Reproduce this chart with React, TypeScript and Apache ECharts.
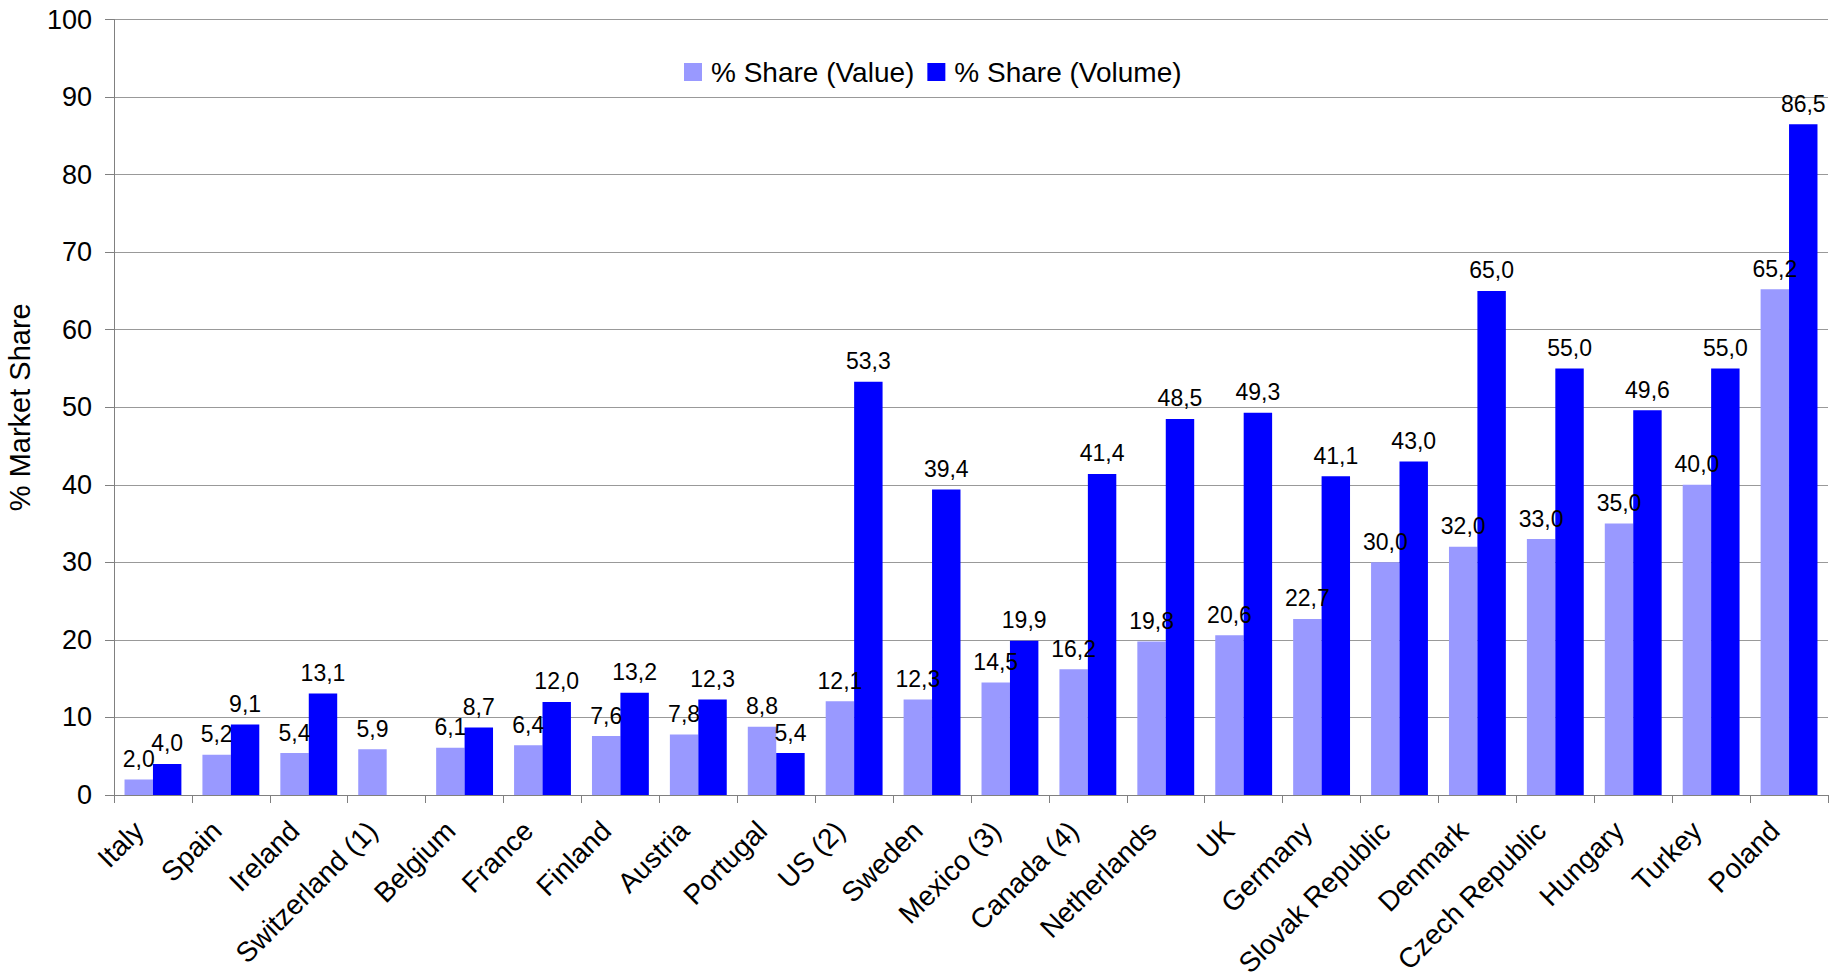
import React, { useEffect, useRef } from "react";
import * as echarts from "echarts";

const countries = [
  "Italy",
  "Spain",
  "Ireland",
  "Switzerland (1)",
  "Belgium",
  "France",
  "Finland",
  "Austria",
  "Portugal",
  "US (2)",
  "Sweden",
  "Mexico (3)",
  "Canada (4)",
  "Netherlands",
  "UK",
  "Germany",
  "Slovak Republic",
  "Denmark",
  "Czech Republic",
  "Hungary",
  "Turkey",
  "Poland",
];

const shareValue = [
  2.0, 5.2, 5.4, 5.9, 6.1, 6.4, 7.6, 7.8, 8.8, 12.1, 12.3, 14.5, 16.2, 19.8,
  20.6, 22.7, 30.0, 32.0, 33.0, 35.0, 40.0, 65.2,
];

const shareVolume: (number | null)[] = [
  4.0, 9.1, 13.1, null, 8.7, 12.0, 13.2, 12.3, 5.4, 53.3, 39.4, 19.9, 41.4,
  48.5, 49.3, 41.1, 43.0, 65.0, 55.0, 49.6, 55.0, 86.5,
];

const seriesNames = ["% Share (Value)", "% Share (Volume)"];
const yAxisTitle = "% Market Share";

const FONT = "'Liberation Sans', Arial, Helvetica, sans-serif";

// Values are shown with a decimal comma, one decimal place.
const fmt = (p: any) =>
  p.value == null ? "" : Number(p.value).toFixed(1).replace(".", ",");

export default function App() {
  const ref = useRef<HTMLDivElement>(null);

  useEffect(() => {
    document.body.style.margin = "0";
    document.body.style.overflow = "hidden";
    const chart = echarts.init(ref.current!, null, { renderer: "svg" });

    const label = {
      show: true,
      position: "top" as const,
      distance: 9,
      fontSize: 23,
      fontFamily: FONT,
      color: "#000",
      formatter: fmt,
    };

    chart.setOption({
      animation: false,
      backgroundColor: "#fff",
      textStyle: { fontFamily: FONT },
      grid: {
        left: 114,
        right: 3,
        top: 19.5,
        bottom: 185,
        containLabel: false,
        outerBoundsMode: "none",
      },
      legend: {
        left: 679,
        top: 53,
        itemWidth: 18,
        itemHeight: 18,
        itemGap: 13,
        icon: "rect",
        textStyle: { fontSize: 28, fontFamily: FONT, color: "#000", padding: [0, 0, 0, 4] },
        data: seriesNames,
      },
      xAxis: {
        type: "category",
        data: countries,
        axisLine: { lineStyle: { color: "#808080", width: 1 } },
        axisTick: { show: true, length: 8, lineStyle: { color: "#808080" } },
        axisLabel: {
          interval: 0,
          rotate: 45,
          margin: 17,
          padding: [0, 20, 0, 0],
          fontSize: 28,
          fontFamily: FONT,
          color: "#000",
        },
      },
      yAxis: {
        type: "value",
        min: 0,
        max: 100,
        interval: 10,
        name: yAxisTitle,
        nameLocation: "middle",
        nameRotate: 90,
        nameGap: 80,
        nameTextStyle: { fontSize: 29, fontFamily: FONT, color: "#000" },
        axisLine: { show: true, lineStyle: { color: "#808080", width: 1 } },
        axisTick: { show: true, length: 9, inside: false, lineStyle: { color: "#808080" } },
        axisLabel: { margin: 22, fontSize: 27, fontFamily: FONT, color: "#000" },
        splitLine: { show: true, lineStyle: { color: "#999999", width: 1 } },
      },
      series: [
        {
          name: seriesNames[0],
          type: "bar",
          data: shareValue,
          itemStyle: { color: "#9999FF" },
          barGap: "0%",
          barCategoryGap: "27%",
          label,
        },
        {
          name: seriesNames[1],
          type: "bar",
          data: shareVolume,
          itemStyle: { color: "#0000FF" },
          barGap: "0%",
          barCategoryGap: "27%",
          label,
        },
      ],
    });

    return () => chart.dispose();
  }, []);

  return <div ref={ref} style={{ width: 1831, height: 980 }} />;
}
